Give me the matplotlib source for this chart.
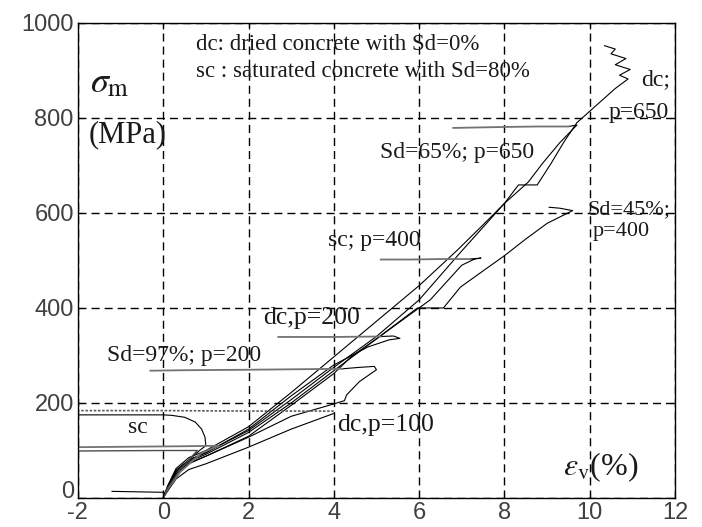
import numpy as np
import matplotlib.pyplot as plt
import matplotlib.transforms as mtransforms

plt.rcParams['axes.unicode_minus'] = False
plt.rcParams['mathtext.fontset'] = 'stix'

# loading curves (eps_v %, sigma_m MPa)
fan_x = [0, 0.1, 0.3, 0.6, 1, 2, 3, 4]

dc650_y = [0, 25, 62, 85, 100, 150, 222, 297]
dc650_tail_x = [5, 6, 6.9, 7.5, 8.0, 8.33, 8.77, 9.1, 9.4, 9.7, 10.2, 10.6, 10.9, 10.7, 10.95, 10.6, 10.85, 10.5, 10.6, 10.35]
dc650_tail_y = [372, 447, 522, 575, 620, 659, 659, 705, 750, 790, 830, 862, 882, 890, 902, 912, 925, 935, 945, 952]

sd65_y = [0, 22, 58, 80, 96, 142, 207, 275]
sd65_tail_x = [5, 6, 7, 8, 8.56, 8.9, 9.3, 9.7, 9.5]
sd65_tail_y = [340, 417, 520, 620, 665, 705, 748, 785, 782]
sd65_unload_x = [9.5, 8.8, 8.0, 7.4, 6.8]
sd65_unload_y = [782, 782, 781, 780, 779]

sc400_y = [0, 20, 55, 77, 92, 138, 200, 268]
sc400_tail_x = [5, 6.26, 7.0, 7.3, 7.45, 7.2]
sc400_tail_y = [335, 417, 490, 503, 505, 503]
sc400_unload_x = [7.2, 6.5, 5.8, 5.1]
sc400_unload_y = [503, 503, 502, 502]

sd45_y = [0, 18, 50, 72, 88, 130, 195, 262]
sd45_tail_x = [4.4, 5, 5.96, 6.57, 6.97, 7.5, 8, 8.5, 9, 9.6, 9.3, 9.05]
sd45_tail_y = [297, 335, 400, 400, 444, 478, 510, 545, 578, 605, 610, 612]

dc200_y = [0, 22, 58, 80, 95, 145, 215, 280]
dc200_tail_x = [4.8, 5.3, 5.55, 5.4, 5.1]
dc200_tail_y = [318, 333, 336, 341, 340]
dc200_unload_x = [5.1, 4.0, 2.7]
dc200_unload_y = [340, 339, 339]

sd97_y = [0, 20, 52, 74, 88, 128, 172, 198]
sd97_tail_x = [4.25, 4.3, 4.6, 5.0, 4.95, 4.6, 4.2]
sd97_tail_y = [205, 217, 245, 270, 277, 275, 272]
sd97_unload_x = [4.2, 2.0, 0.5, -0.3]
sd97_unload_y = [272, 270, 269, 268]

dc100_y = [0, 14, 40, 60, 72, 107, 145, 178]
dc100_unload_x = [4, 2, 0, -2]
dc100_unload_y = [183, 183, 184, 184]

sc100_x = [0, 0.1, 0.3, 0.6, 0.85, 1.0, 0.98, 0.9, 0.75, 0.5, 0.2, 0, -2]
sc100_y = [0, 20, 50, 80, 100, 110, 128, 145, 160, 170, 174, 175, 175]

low1_x = [0, 0.1, 0.4, 0.9, 1.3, 0.5, -2]
low1_y = [0, 18, 55, 95, 110, 109, 107]
low2_x = [0, 0.1, 0.4, 0.8, 0, -2]
low2_y = [0, 20, 60, 100, 100, 99]
low3_x = [0, 0.02, -1.2]
low3_y = [0, 12, 14]

fig = plt.figure(figsize=(7.02, 5.27), dpi=100)
ax = fig.add_axes([0.111, 0.055, 0.8505, 0.9015])

k = dict(color='black', lw=0.8)
g = dict(color='0.45', lw=1.3)

ax.plot(fan_x + dc650_tail_x, dc650_y + dc650_tail_y, **k)
ax.plot(fan_x + sd65_tail_x, sd65_y + sd65_tail_y, **k)
ax.plot(sd65_unload_x, sd65_unload_y, **g)
ax.plot(fan_x + sc400_tail_x, sc400_y + sc400_tail_y, **k)
ax.plot(sc400_unload_x, sc400_unload_y, **g)
ax.plot(fan_x + sd45_tail_x, sd45_y + sd45_tail_y, **k)
ax.plot(fan_x + dc200_tail_x, dc200_y + dc200_tail_y, **k)
ax.plot(dc200_unload_x, dc200_unload_y, **g)
ax.plot(fan_x + sd97_tail_x, sd97_y + sd97_tail_y, **k)
ax.plot(sd97_unload_x, sd97_unload_y, **g)
ax.plot(fan_x, dc100_y, **k)
ax.plot(dc100_unload_x, dc100_unload_y, color='0.35', lw=1.2, ls=(0, (1.5, 1)))
ax.plot(sc100_x, sc100_y, **k)
ax.plot(low1_x, low1_y, **g)
ax.plot(low2_x, low2_y, color='0.3', lw=1.0)
ax.plot(low3_x, low3_y, **k)

ax.set_xlim(-2, 12)
ax.set_ylim(0, 1000)
ax.set_xticks(np.arange(-2, 13, 2))
ax.set_yticks(np.arange(0, 1001, 200))
ax.grid(True, color='black', lw=1.0, ls=(0, (5.8, 3.6)))
ax.tick_params(direction='in', length=4, top=True, right=True,
               labelsize=17, labelcolor='0.25')
ax.tick_params(axis='x', pad=3)
ax.tick_params(axis='y', pad=3)
for lab in ax.get_xticklabels() + ax.get_yticklabels():
    lab.set_family('Liberation Sans')
# lift the "0" a bit so it clears the "-2" below it
lab0 = ax.get_yticklabels()[0]
lab0.set_transform(lab0.get_transform() + mtransforms.ScaledTranslation(0, 6 / 72, fig.dpi_scale_trans))
for s in ax.spines.values():
    s.set_linewidth(1.0)

ser = dict(family='Liberation Serif', color='0.1', va='center')
ax.text(0.77, 954, 'dc: dried concrete with Sd=0%', fontsize=16.5, **ser)
ax.text(0.77, 897, 'sc : saturated concrete with Sd=80%', fontsize=16.5, **ser)
ax.text(-1.72, 875, r'$\sigma_\mathrm{m}$', fontsize=26, va='center', color='0.1')
ax.text(-1.74, 764, '(MPa)', fontsize=22, **ser)
ax.text(5.09, 728, 'Sd=65%; p=650', fontsize=17, **ser)
ax.text(11.2, 880, 'dc;', fontsize=17, **ser)
ax.text(10.45, 812, 'p=650', fontsize=17, **ser)
ax.text(9.94, 606, 'Sd=45%;', fontsize=16, **ser)
ax.text(10.06, 560, 'p=400', fontsize=16, **ser)
ax.text(3.87, 543, 'sc; p=400', fontsize=17, **ser)
ax.text(2.35, 379, 'dc,p=200', fontsize=18.5, **ser)
ax.text(-1.31, 301, 'Sd=97%; p=200', fontsize=17, **ser)
ax.text(-0.82, 149, 'sc', fontsize=17, **ser)
ax.text(4.08, 154, 'dc,p=100', fontsize=18.5, **ser)
ax.text(9.38, 65, r'$\varepsilon_\mathrm{v}$(%)', fontsize=23, family='Liberation Serif',
        va='center', color='0.1')

fig.savefig('out.png', dpi=100)
